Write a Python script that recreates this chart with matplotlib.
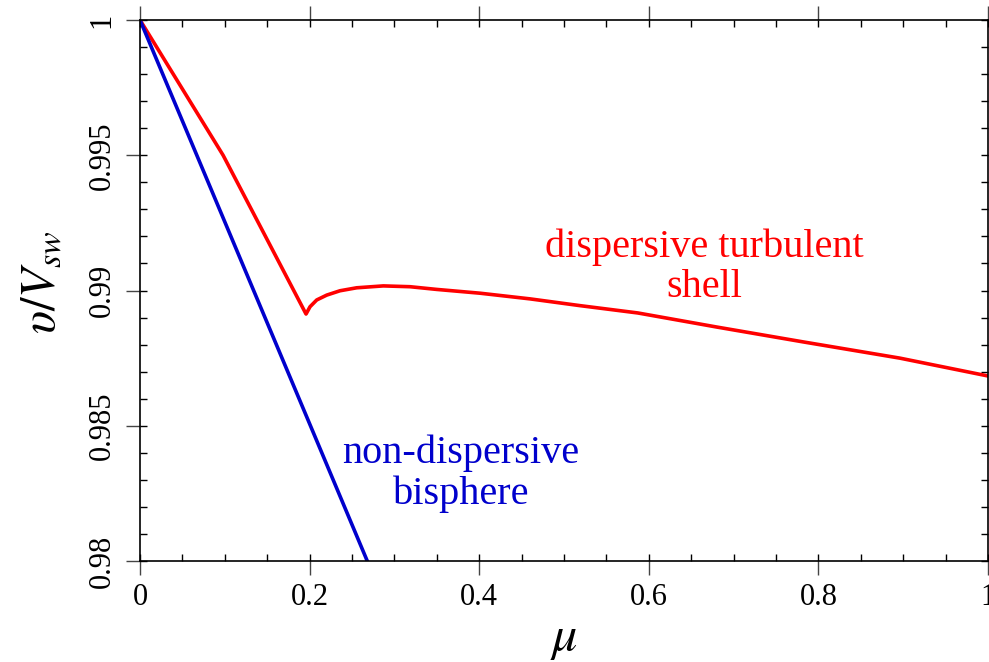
import matplotlib
matplotlib.use("Agg")
import matplotlib.pyplot as plt
from matplotlib.ticker import MultipleLocator, FuncFormatter

plt.rcParams['font.family'] = ['Liberation Serif', 'DejaVu Serif']
plt.rcParams['mathtext.fontset'] = 'stix'

# data
mu_shell = [0.0, 0.098, 0.1958, 0.2005, 0.2084, 0.2202, 0.2358, 0.2555, 0.2869,
            0.3184, 0.3499, 0.401, 0.460, 0.519, 0.587, 0.68, 0.782, 0.896, 1.0]
v_shell = [1.0, 0.995, 0.98913, 0.98940, 0.98965, 0.98983, 0.98999, 0.99010, 0.99017,
           0.99014, 0.99004, 0.98990, 0.98969, 0.98944, 0.98917, 0.98865, 0.98810, 0.98750, 0.98684]
mu_sphere = [0.0, 0.268]
v_sphere = [1.0, 0.98]

xticks = [0, 0.2, 0.4, 0.6, 0.8, 1.0]
yticks = [0.98, 0.985, 0.99, 0.995, 1.0]

red = '#ff0000'
blue = '#0000cc'

fig = plt.figure(figsize=(9.89, 6.62), dpi=100)
ax = fig.add_axes([140 / 989, 1 - 561 / 662, 848 / 989, 541 / 662])

ax.plot(mu_shell, v_shell, color=red, lw=2.6)
ax.plot(mu_sphere, v_sphere, color=blue, lw=2.6)

ax.set_xlim(0, 1)
ax.set_ylim(0.98, 1.0)
ax.set_xticks(xticks)
ax.set_yticks(yticks)
ax.xaxis.set_minor_locator(MultipleLocator(0.05))
ax.yaxis.set_minor_locator(MultipleLocator(0.001))
ax.xaxis.remove_overlapping_locs = False
ax.yaxis.remove_overlapping_locs = False
fmt = FuncFormatter(lambda v, p: '%g' % round(v, 4))
ax.xaxis.set_major_formatter(fmt)
ax.yaxis.set_major_formatter(fmt)

ax.tick_params(which='major', direction='out', length=10, width=1.0,
               top=True, right=True, labelsize=22, color='#444444')
ax.tick_params(which='minor', direction='in', length=5, width=1.0,
               top=True, right=True, color='black')
ax.tick_params(axis='x', which='major', pad=6)
ax.tick_params(axis='y', which='major', pad=7)
for lab in ax.get_yticklabels():
    lab.set_rotation(90)
    lab.set_va('center')

for s in ax.spines.values():
    s.set_linewidth(1.2)

ax.set_xlabel(r'$\mu$', fontsize=36)
ax.xaxis.set_label_coords(0.5, -0.1)
ax.set_ylabel(r'$\upsilon/V_{sw}$', fontsize=35)
ax.yaxis.set_label_coords(-0.088, 0.516)

ax.text(0.6657, 0.98943, 'dispersive turbulent\nshell', color=red, fontsize=29,
        ha='center', va='bottom', linespacing=1.12)
ax.text(0.3785, 0.98178, 'non-dispersive\nbisphere', color=blue, fontsize=29,
        ha='center', va='bottom', linespacing=1.12)

fig.savefig('out.png', dpi=100)
